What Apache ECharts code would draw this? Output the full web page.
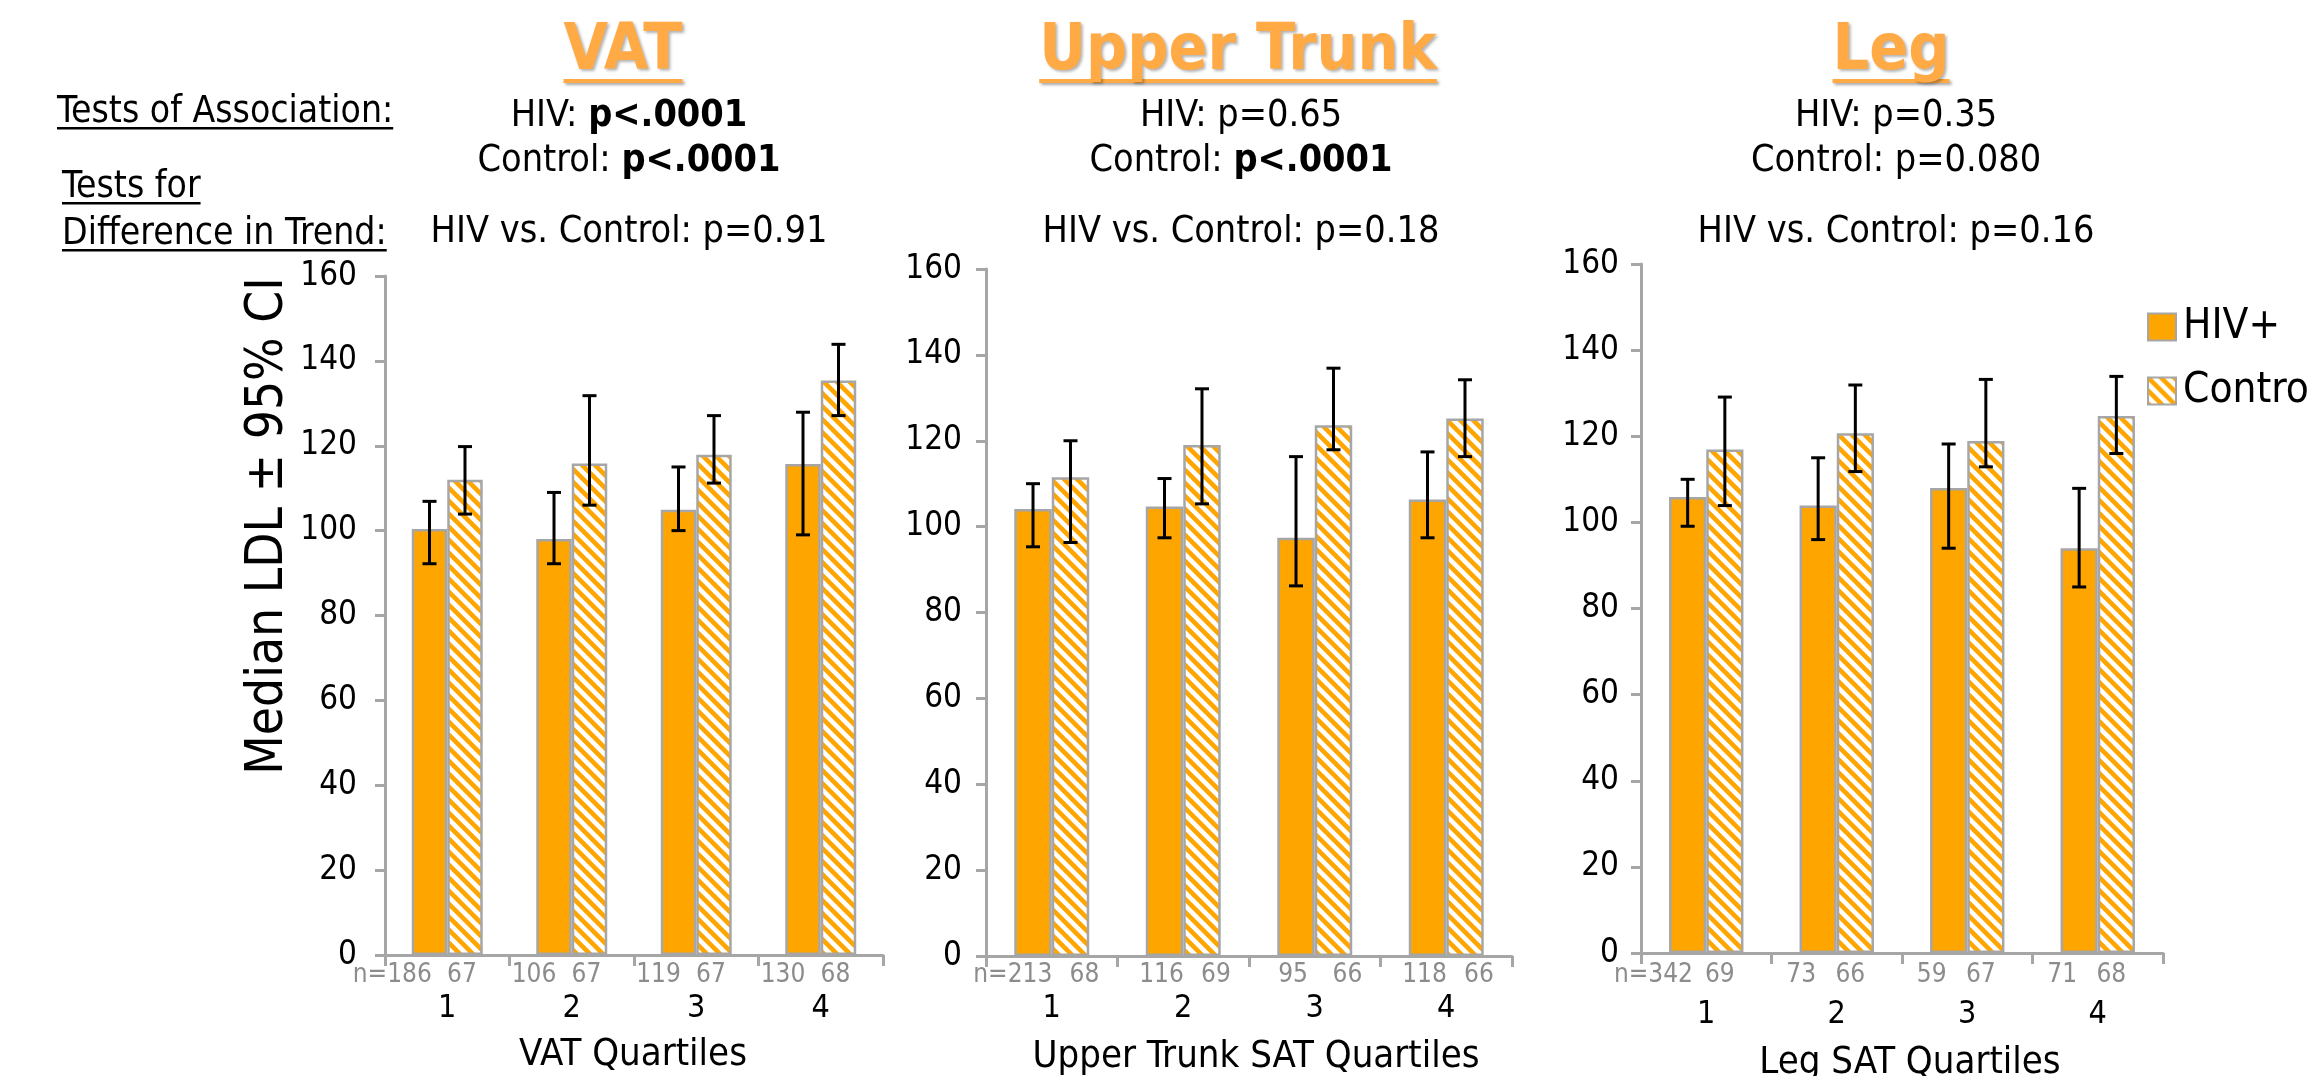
<!DOCTYPE html>
<html><head><meta charset="utf-8">
<script src="https://cdn.jsdelivr.net/npm/echarts@6/dist/echarts.min.js"></script>
<style>html,body{margin:0;padding:0;background:#fff}#c{width:2311px;height:1076px}</style>
</head><body><div id="c"></div>
<script>
// ---------- data ----------
const categories = ['1', '2', '3', '4'];
const panelTitles = ['VAT', 'Upper Trunk', 'Leg'];
const axisTitles = ['VAT Quartiles', 'Upper Trunk SAT Quartiles', 'Leg SAT Quartiles'];
const hivAssocP = ['p<.0001', 'p=0.65', 'p=0.35'];
const hivAssocBold = [true, false, false];
const ctrlAssocP = ['p<.0001', 'p<.0001', 'p=0.080'];
const ctrlAssocBold = [true, true, false];
const trendP = ['p=0.91', 'p=0.18', 'p=0.16'];

const vatHIV = [100.4, 98.0, 104.9, 115.7];
const vatHIVLow = [92.2, 92.2, 100.0, 99.0];
const vatHIVHigh = [106.9, 109.0, 115.0, 127.9];
const vatCtrl = [112.0, 115.8, 117.9, 135.4];
const vatCtrlLow = [103.9, 106.0, 111.2, 127.1];
const vatCtrlHigh = [119.8, 131.8, 127.1, 143.9];
const vatNHIV = [186, 106, 119, 130];
const vatNCtrl = [67, 67, 67, 68];

const upHIV = [104.1, 104.7, 97.4, 106.3];
const upHIVLow = [95.3, 97.4, 86.2, 97.4];
const upHIVHigh = [110.0, 111.2, 116.3, 117.4];
const upCtrl = [111.5, 119.0, 123.6, 125.2];
const upCtrlLow = [96.3, 105.3, 117.9, 116.3];
const upCtrlHigh = [120.0, 132.1, 136.9, 134.2];
const upNHIV = [213, 116, 95, 118];
const upNCtrl = [68, 69, 66, 66];

const legHIV = [105.9, 103.9, 108.0, 94.0];
const legHIVLow = [99.1, 96.0, 94.0, 85.0];
const legHIVHigh = [110.0, 115.0, 118.2, 107.9];
const legCtrl = [116.9, 120.7, 118.9, 124.7];
const legCtrlLow = [103.9, 111.8, 112.9, 116.0];
const legCtrlHigh = [129.1, 131.9, 133.2, 133.9];
const legNHIV = [342, 73, 59, 71];
const legNCtrl = [69, 66, 67, 68];

const yTicks = [0, 20, 40, 60, 80, 100, 120, 140, 160];

// ---------- styling / layout ----------
function hasFont(name) {
  const c = document.createElement('canvas').getContext('2d');
  const s = 'abcdefghijHIVmw0123456789';
  c.font = '40px monospace'; const a = c.measureText(s).width;
  c.font = '40px "' + name + '", monospace'; const b = c.measureText(s).width;
  return Math.abs(a - b) > 0.5;
}
const FF = hasFont('DejaVu Sans Condensed') ? 'DejaVu Sans Condensed' : 'Liberation Sans';
const ORANGE = '#FFA500';
const TITLE_ORANGE = '#FFAA44';
const GRAY = '#A6A6A6';
const NGRAY = '#8C8C8C';
const GAP = 0.43;
const TXT = 37.5;

const panels = [
  { hiv: vatHIV, hl: vatHIVLow, hh: vatHIVHigh, ctrl: vatCtrl, cl: vatCtrlLow, ch: vatCtrlHigh, nh: vatNHIV, nc: vatNCtrl,
    grid: { left: 385, top: 276, width: 498, height: 679 }, center: 629, titleX: 623, axTitleX: 633, axTitleY: 1068,
    labelMargin: 28, nOffH: -20, nOffC: -3, catY: 1020 },
  { hiv: upHIV, hl: upHIVLow, hh: upHIVHigh, ctrl: upCtrl, cl: upCtrlLow, ch: upCtrlHigh, nh: upNHIV, nc: upNCtrl,
    grid: { left: 986, top: 269, width: 526, height: 687 }, center: 1241, titleX: 1238, axTitleX: 1256, axTitleY: 1070,
    labelMargin: 24, nOffH: -3, nOffC: 14, catY: 1020 },
  { hiv: legHIV, hl: legHIVLow, hh: legHIVHigh, ctrl: legCtrl, cl: legCtrlLow, ch: legCtrlHigh, nh: legNHIV, nc: legNCtrl,
    grid: { left: 1641, top: 264, width: 522, height: 689 }, center: 1896, titleX: 1891, axTitleX: 1910, axTitleY: 1076,
    labelMargin: 22, nOffH: -17, nOffC: -5, catY: 1026 }
];

// hatch pattern
const tile = document.createElement('canvas');
tile.width = 13; tile.height = 13;
(function () {
  const g = tile.getContext('2d');
  g.fillStyle = '#fff'; g.fillRect(0, 0, 13, 13);
  g.strokeStyle = ORANGE; g.lineWidth = 4.6;
  g.beginPath();
  [-13, 0, 13].forEach(c => { g.moveTo(-3, -3 + c); g.lineTo(16, 16 + c); });
  g.stroke();
})();
const hatch = { image: tile, repeat: 'repeat' };

const measure = document.createElement('canvas').getContext('2d');
function textWidth(str, size, weight) {
  measure.font = (weight || 'normal') + ' ' + size + 'px "' + FF + '"';
  return measure.measureText(str).width;
}

// text placed by baseline
function txt(x, baseline, str, size, o) {
  o = o || {};
  return {
    type: 'text', x: x, y: baseline - 0.35 * size, z: 100, rotation: o.rotation || 0,
    style: Object.assign({
      text: str, fontSize: size, fontFamily: FF, fontWeight: o.weight || 'normal',
      fill: o.fill || '#000', align: o.align || 'center', verticalAlign: 'middle'
    }, o.style || {})
  };
}
function uline(x1, x2, y, h, color, shadow) {
  const el = { type: 'rect', z: 99, shape: { x: x1, y: y, width: x2 - x1, height: h }, style: { fill: color } };
  if (shadow) Object.assign(el.style, { shadowColor: 'rgba(0,0,0,0.35)', shadowBlur: 3, shadowOffsetX: 2, shadowOffsetY: 2 });
  return el;
}

const graphics = [];
// left side labels
graphics.push(txt(57, 125, 'Tests of Association:', 37, { align: 'left' }));
graphics.push(uline(57, 57 + textWidth('Tests of Association:', 37), 127, 2.5, '#000'));
graphics.push(txt(62, 200, 'Tests for', 37, { align: 'left' }));
graphics.push(uline(62, 62 + textWidth('Tests for', 37), 202, 2.5, '#000'));
graphics.push(txt(62, 247, 'Difference in Trend:', 37, { align: 'left' }));
graphics.push(uline(62, 62 + textWidth('Difference in Trend:', 37), 249, 2.5, '#000'));
// y axis title
graphics.push(Object.assign(txt(269, 526, 'Median LDL ± 95% CI', 51, { rotation: Math.PI / 2 }), { x: 269, y: 526 }));

panels.forEach((p, i) => {
  const tw = textWidth(panelTitles[i], 64, 'bold');
  graphics.push(txt(p.titleX, 75, panelTitles[i], 64, {
    weight: 'bold', fill: TITLE_ORANGE,
    style: { textShadowColor: 'rgba(0,0,0,0.3)', textShadowBlur: 3, textShadowOffsetX: 2, textShadowOffsetY: 2 }
  }));
  graphics.push(uline(p.titleX - tw / 2, p.titleX + tw / 2, 79, 4, TITLE_ORANGE, true));
  const rich = { b: { fontWeight: 'bold', fontSize: TXT, fontFamily: FF, fill: '#000' } };
  const h = 'HIV: ' + (hivAssocBold[i] ? '{b|' + hivAssocP[i] + '}' : hivAssocP[i]);
  const c = 'Control: ' + (ctrlAssocBold[i] ? '{b|' + ctrlAssocP[i] + '}' : ctrlAssocP[i]);
  graphics.push(txt(p.center, 129, h, TXT, { style: { rich: rich } }));
  graphics.push(txt(p.center, 174, c, TXT, { style: { rich: rich } }));
  graphics.push(txt(p.center, 245, 'HIV vs. Control: ' + trendP[i], TXT));
  graphics.push(txt(p.axTitleX, p.axTitleY, axisTitles[i], 38));
});

function errSeries(i, low, high, side) {
  return {
    type: 'custom', xAxisIndex: i, yAxisIndex: i, z: 10, silent: true,
    data: categories.map((c, k) => [k, low[k], high[k]]),
    renderItem: function (params, api) {
      const k = api.value(0);
      const catW = api.size([1, 0])[0];
      const bw = catW * (1 - GAP) / 2;
      const lo = api.coord([k, api.value(1)]);
      const hi = api.coord([k, api.value(2)]);
      const x = lo[0] + side * bw / 2;
      const cap = 7;
      const st = { stroke: '#000', lineWidth: 3 };
      return {
        type: 'group', children: [
          { type: 'line', shape: { x1: x, y1: lo[1], x2: x, y2: hi[1] }, style: st },
          { type: 'line', shape: { x1: x - cap, y1: lo[1], x2: x + cap, y2: lo[1] }, style: st },
          { type: 'line', shape: { x1: x - cap, y1: hi[1], x2: x + cap, y2: hi[1] }, style: st }
        ]
      };
    }
  };
}

const grids = [], xAxes = [], yAxes = [], series = [];
panels.forEach((p, i) => {
  grids.push(p.grid);
  xAxes.push({
    type: 'category', gridIndex: i, data: categories,
    axisLine: { lineStyle: { color: GRAY, width: 3 } },
    axisTick: { show: true, length: 11, lineStyle: { color: GRAY, width: 3 } },
    axisLabel: { show: false }
  });
  yAxes.push({
    type: 'value', gridIndex: i, min: yTicks[0], max: yTicks[yTicks.length - 1], interval: yTicks[1] - yTicks[0],
    splitLine: { show: false },
    axisLine: { show: true, lineStyle: { color: GRAY, width: 3 } },
    axisTick: { show: true, length: 10, lineStyle: { color: GRAY, width: 3 } },
    axisLabel: { fontSize: 33, fontFamily: FF, color: '#000', margin: p.labelMargin }
  });
  series.push({
    type: 'bar', name: 'HIV+', xAxisIndex: i, yAxisIndex: i, data: p.hiv,
    barGap: '0%', barCategoryGap: (GAP * 100) + '%',
    itemStyle: { color: ORANGE, borderColor: GRAY, borderWidth: 2.5 }
  });
  series.push({
    type: 'bar', name: 'Control', xAxisIndex: i, yAxisIndex: i, data: p.ctrl,
    barGap: '0%', barCategoryGap: (GAP * 100) + '%',
    itemStyle: { color: hatch, borderColor: GRAY, borderWidth: 2.5 }
  });
  series.push(errSeries(i, p.hl, p.hh, -1));
  series.push(errSeries(i, p.cl, p.ch, 1));
});

const chart = echarts.init(document.getElementById('c'), null, { renderer: 'canvas' });
chart.setOption({
  animation: false,
  backgroundColor: '#fff',
  textStyle: { fontFamily: FF },
  grid: grids, xAxis: xAxes, yAxis: yAxes, series: series,
  legend: {
    orient: 'vertical', left: 2147, top: 306, padding: 0, itemWidth: 28, itemHeight: 27, itemGap: 22,
    icon: 'rect', data: ['HIV+', 'Control'],
    textStyle: { fontSize: 42, fontFamily: FF, color: '#000', padding: [0, 0, 0, 2] }
  },
  graphic: graphics
});

// category labels and sample sizes, positioned through the axes
const extra = [];
panels.forEach((p, i) => {
  categories.forEach((cat, k) => {
    const pt = chart.convertToPixel({ gridIndex: i }, [k, 0]);
    const catW = p.grid.width / categories.length;
    const bw = catW * (1 - GAP) / 2;
    const hx = pt[0] - bw / 2 + p.nOffH;
    const cx = pt[0] + bw / 2 + p.nOffC;
    const hs = String(p.nh[k]);
    extra.push(txt(hx, 984, hs, 26, { fill: NGRAY }));
    if (k === 0) extra.push(txt(hx - textWidth(hs, 26) / 2, 984, 'n=', 26, { fill: NGRAY, align: 'right' }));
    extra.push(txt(cx, 984, String(p.nc[k]), 26, { fill: NGRAY }));
    extra.push(txt(pt[0], p.catY, cat, 32));
  });
});
chart.setOption({ graphic: graphics.concat(extra) });
</script></body></html>
